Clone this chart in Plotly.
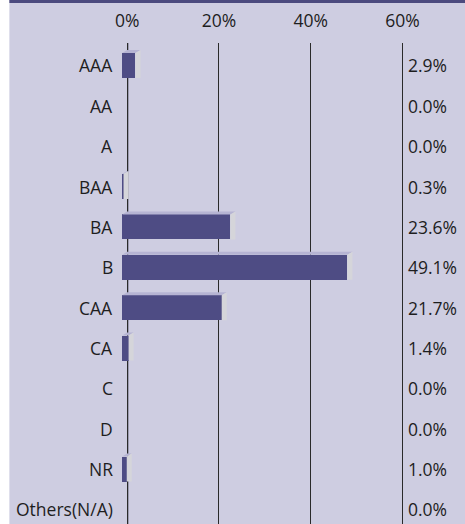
import plotly.graph_objects as go

categories = ["AAA", "AA", "A", "BAA", "BA", "B", "CAA", "CA", "C", "D", "NR", "Others(N/A)"]
values = [2.9, 0.0, 0.0, 0.3, 23.6, 49.1, 21.7, 1.4, 0.0, 0.0, 1.0, 0.0]
value_labels = ["2.9%", "0.0%", "0.0%", "0.3%", "23.6%", "49.1%", "21.7%", "1.4%", "0.0%", "0.0%", "1.0%", "0.0%"]
x_ticks = [0, 20, 40, 60]
x_tick_labels = ["0%", "20%", "40%", "60%"]

W, H = 465, 524
X0PX, X60PX = 127.5, 402.0
XMIN, XMAX = -2, 61
px_per_x = (X60PX - X0PX) / 60
ML = X0PX + XMIN * px_per_x
MR = W - (X60PX + (XMAX - 60) * px_per_x)
MT, MB = 43, 0
YMIN, YMAX = -0.557, 11.36
pw = W - ML - MR
ph = H - MT - MB
px_per_y = ph / (YMAX - YMIN)

BG = "#cecde1"
FRONT = "#4e4c84"
TOP = "#b6b4d3"
SIDE = "#d5d5da"
FONT = "Open Sans"
FS = 17.5

depth_x = 5 / px_per_x
depth_y = 3 / px_per_y
shift = -5 / px_per_x  # bars start slightly left of the zero line
bar_w = 25 / px_per_y

ys = list(range(len(categories)))

fig = go.Figure()
fig.add_trace(go.Bar(
    y=ys, x=values, base=[shift] * len(values), orientation="h",
    width=bar_w, marker=dict(color=FRONT, line=dict(width=0)),
    hoverinfo="skip", showlegend=False,
))

def px_x(p):
    return (p - ML) / pw

def px_y(p):
    return 1 - (p - MT) / ph

shapes = []
# lavender panel (paper itself is white, leaving a white strip on the left)
shapes.append(dict(type="rect", xref="paper", yref="paper", layer="below",
                   x0=px_x(10), x1=px_x(W + 5), y0=px_y(H + 5), y1=px_y(0),
                   fillcolor=BG, line=dict(width=0)))
# dark band on top
shapes.append(dict(type="rect", xref="paper", yref="paper", layer="below",
                   x0=px_x(10), x1=px_x(W + 5), y0=px_y(3), y1=px_y(-5),
                   fillcolor="#4b4a7e", line=dict(width=0)))
# faint shadow beside the zero line
shapes.append(dict(type="line", xref="x", yref="paper", layer="below",
                   x0=1.3 / px_per_x, x1=1.3 / px_per_x, y0=0, y1=1,
                   line=dict(color="#9b9aae", width=1)))
for y, v in zip(ys, values):
    if v <= 0:
        continue
    x0 = shift
    x1 = shift + v
    top = y - bar_w / 2
    bot = y + bar_w / 2
    shapes.append(dict(
        type="path", xref="x", yref="y", layer="above",
        path=f"M {x0},{top} L {x0 + depth_x},{top - depth_y} L {x1 + depth_x},{top - depth_y} L {x1},{top} Z",
        fillcolor=TOP, line=dict(width=0),
    ))
    shapes.append(dict(
        type="path", xref="x", yref="y", layer="above",
        path=f"M {x1},{top} L {x1 + depth_x},{top - depth_y} L {x1 + depth_x},{bot} L {x1},{bot} Z",
        fillcolor=SIDE, line=dict(width=0),
    ))

annotations = []
for y, c, lab in zip(ys, categories, value_labels):
    annotations.append(dict(x=0, y=y, xref="x", yref="y", text=c, showarrow=False,
                            xanchor="right", yanchor="middle", xshift=-12,
                            font=dict(family=FONT, size=FS, color="#1e1e1e")))
    annotations.append(dict(x=60, y=y, xref="x", yref="y", text=lab, showarrow=False,
                            xanchor="left", yanchor="middle", xshift=4,
                            font=dict(family=FONT, size=FS, color="#1e1e1e")))

fig.update_layout(
    width=W, height=H,
    margin=dict(l=ML, r=MR, t=MT, b=MB, pad=0),
    paper_bgcolor="white", plot_bgcolor=BG,
    shapes=shapes, annotations=annotations,
    bargap=0,
    xaxis=dict(
        range=[XMIN, XMAX], side="top", tickvals=x_ticks, ticktext=x_tick_labels,
        showgrid=True, gridcolor="#2a2a2a", gridwidth=1.4, zeroline=False,
        showline=False, ticks="", tickfont=dict(family=FONT, size=FS, color="#1e1e1e"),
        ticklabelstandoff=12, fixedrange=True,
    ),
    yaxis=dict(
        range=[YMAX, YMIN], showgrid=False, zeroline=False, showline=False,
        showticklabels=False, ticks="", fixedrange=True,
    ),
)

fig.write_html("out.html", config={"displayModeBar": False},
               post_script="document.body.style.margin='0';document.body.style.overflow='hidden';")
